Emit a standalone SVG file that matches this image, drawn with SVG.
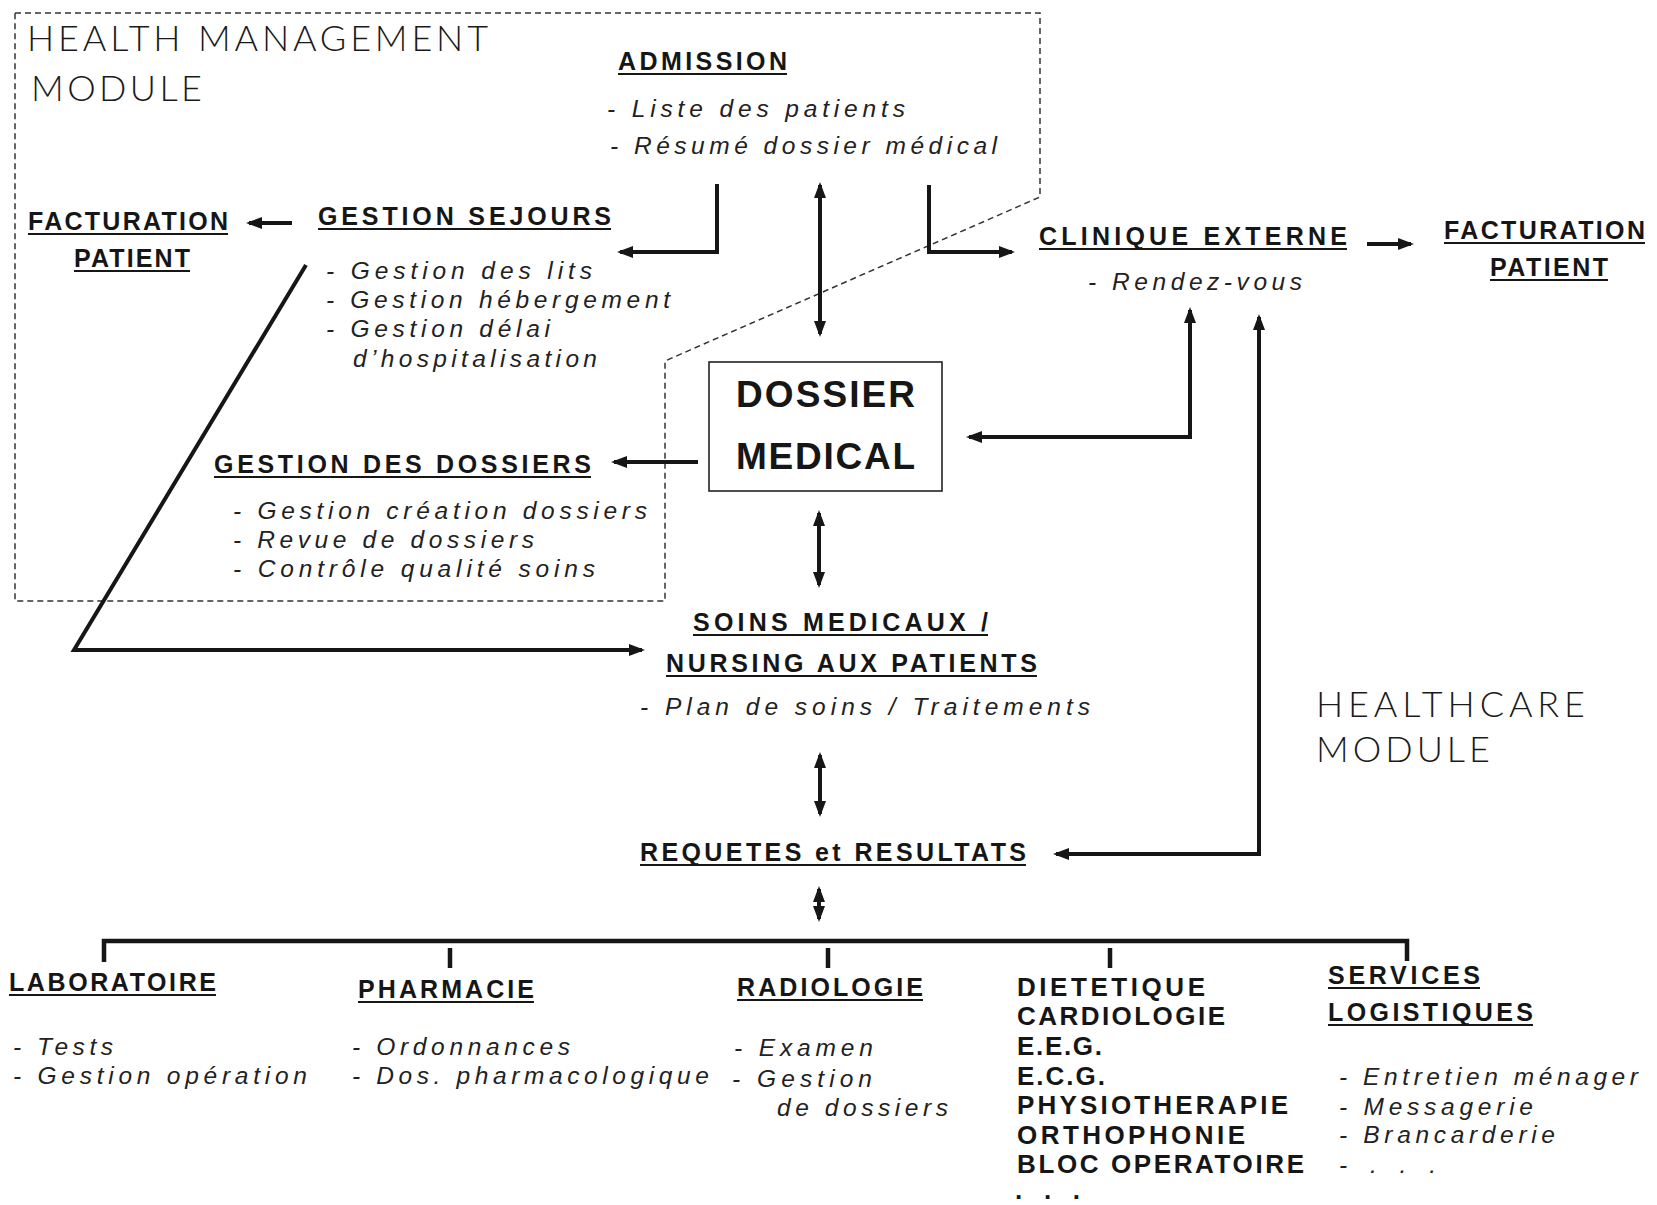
<svg xmlns="http://www.w3.org/2000/svg" width="1657" height="1205" viewBox="0 0 1657 1205">
  <style>
    .ttl { font-family: Lato, 'Liberation Sans', Arial, sans-serif; font-weight: 300; font-size: 36px; fill: #1a1a1a; }
    .hd  { font-family: 'Liberation Sans', Arial, sans-serif; font-weight: bold; font-size: 25px; fill: #161616; }
    .lst { font-family: 'Liberation Sans', Arial, sans-serif; font-weight: bold; font-size: 26px; fill: #161616; }
    .big { font-family: 'Liberation Sans', Arial, sans-serif; font-weight: bold; font-size: 37px; fill: #161616; }
    .it  { font-family: 'Liberation Sans', Arial, sans-serif; font-style: italic; font-size: 24.5px; fill: #222; }
    .ul  { stroke: #161616; stroke-width: 2; }
    .cn  { fill: none; stroke: #161616; stroke-width: 4; }
    .bus { fill: none; stroke: #161616; stroke-width: 4.5; }
    .zone { fill: none; stroke: #333; stroke-width: 1.5; stroke-dasharray: 6 4; }
    .box { fill: #fff; stroke: #222; stroke-width: 1.6; }
  </style>
  <defs>
    <marker id="head" markerUnits="userSpaceOnUse" markerWidth="16" markerHeight="12" refX="13" refY="6" orient="auto-start-reverse">
      <path d="M0,0 L16,6 L0,12 Z" fill="#161616"/>
    </marker>
  </defs>

  <rect width="1657" height="1205" fill="#fff"/>

  <!-- boundary of the health management module -->
  <path class="zone" d="M15,13 H1040 V197 L665,361 V601 H15 Z"/>

  <g id="title-health-management">
    <text class="ttl" x="27" y="51" textLength="461">HEALTH MANAGEMENT</text>
    <text class="ttl" x="31" y="101" textLength="171">MODULE</text>
  </g>

  <g id="title-healthcare">
    <text class="ttl" x="1316" y="717" textLength="269">HEALTHCARE</text>
    <text class="ttl" x="1316" y="762" textLength="174">MODULE</text>
  </g>

  <g id="admission">
    <text class="hd" x="618" y="70" textLength="169">ADMISSION</text>
    <line class="ul" x1="618" y1="74" x2="787" y2="74"/>
    <text class="it" x="607" y="117" textLength="298">- Liste des patients</text>
    <text class="it" x="610" y="154" textLength="387">- Résumé dossier médical</text>
  </g>

  <g id="facturation-left">
    <text class="hd" x="28" y="230" textLength="200">FACTURATION</text>
    <line class="ul" x1="28" y1="234" x2="228" y2="234"/>
    <text class="hd" x="74" y="267" textLength="116">PATIENT</text>
    <line class="ul" x1="74" y1="271" x2="190" y2="271"/>
  </g>

  <g id="gestion-sejours">
    <text class="hd" x="318" y="225" textLength="293">GESTION SEJOURS</text>
    <line class="ul" x1="318" y1="229" x2="611" y2="229"/>
    <text class="it" x="326" y="279" textLength="266">- Gestion des lits</text>
    <text class="it" x="326" y="308" textLength="344">- Gestion hébergement</text>
    <text class="it" x="326" y="337" textLength="224">- Gestion délai</text>
    <text class="it" x="353" y="367" textLength="244">d’hospitalisation</text>
  </g>

  <g id="clinique-externe">
    <text class="hd" x="1039" y="245" textLength="308">CLINIQUE EXTERNE</text>
    <line class="ul" x1="1039" y1="249" x2="1347" y2="249"/>
    <text class="it" x="1088" y="290" textLength="214">- Rendez-vous</text>
  </g>

  <g id="facturation-right">
    <text class="hd" x="1444" y="239" textLength="201">FACTURATION</text>
    <line class="ul" x1="1444" y1="243" x2="1645" y2="243"/>
    <text class="hd" x="1490" y="276" textLength="118">PATIENT</text>
    <line class="ul" x1="1490" y1="280" x2="1608" y2="280"/>
  </g>

  <g id="dossier-medical">
    <rect class="box" x="709" y="362" width="233" height="129"/>
    <text class="big" x="736" y="407" textLength="179">DOSSIER</text>
    <text class="big" x="736" y="469" textLength="179">MEDICAL</text>
  </g>

  <g id="gestion-dossiers">
    <text class="hd" x="214" y="473" textLength="377">GESTION DES DOSSIERS</text>
    <line class="ul" x1="214" y1="477" x2="591" y2="477"/>
    <text class="it" x="233" y="519" textLength="414">- Gestion création dossiers</text>
    <text class="it" x="233" y="548" textLength="301">- Revue de dossiers</text>
    <text class="it" x="233" y="577" textLength="362">- Contrôle qualité soins</text>
  </g>

  <g id="soins-medicaux">
    <text class="hd" x="693" y="631" textLength="295">SOINS MEDICAUX /</text>
    <line class="ul" x1="693" y1="635" x2="988" y2="635"/>
    <text class="hd" x="666" y="672" textLength="371">NURSING AUX PATIENTS</text>
    <line class="ul" x1="666" y1="676" x2="1037" y2="676"/>
    <text class="it" x="640" y="715" textLength="450">- Plan de soins / Traitements</text>
  </g>

  <g id="requetes-resultats">
    <text class="hd" x="640" y="861" textLength="386">REQUETES et RESULTATS</text>
    <line class="ul" x1="640" y1="865" x2="1026" y2="865"/>
  </g>

  <g id="laboratoire">
    <text class="hd" x="9" y="991" textLength="207">LABORATOIRE</text>
    <line class="ul" x1="9" y1="995" x2="216" y2="995"/>
    <text class="it" x="13" y="1055" textLength="100">- Tests</text>
    <text class="it" x="13" y="1084" textLength="294">- Gestion opération</text>
  </g>

  <g id="pharmacie">
    <text class="hd" x="358" y="998" textLength="176">PHARMACIE</text>
    <line class="ul" x1="358" y1="1002" x2="534" y2="1002"/>
    <text class="it" x="352" y="1055" textLength="218">- Ordonnances</text>
    <text class="it" x="352" y="1084" textLength="357">- Dos. pharmacologique</text>
  </g>

  <g id="radiologie">
    <text class="hd" x="737" y="996" textLength="186">RADIOLOGIE</text>
    <line class="ul" x1="737" y1="1000" x2="923" y2="1000"/>
    <text class="it" x="734" y="1056" textLength="139">- Examen</text>
    <text class="it" x="732" y="1087" textLength="140">- Gestion</text>
    <text class="it" x="777" y="1116" textLength="171">de dossiers</text>
  </g>

  <g id="services-specialises">
    <text class="lst" x="1017" y="996" textLength="188">DIETETIQUE</text>
    <text class="lst" x="1017" y="1025" textLength="208">CARDIOLOGIE</text>
    <text class="lst" x="1017" y="1055" textLength="85">E.E.G.</text>
    <text class="lst" x="1017" y="1085" textLength="88">E.C.G.</text>
    <text class="lst" x="1017" y="1114" textLength="271">PHYSIOTHERAPIE</text>
    <text class="lst" x="1017" y="1144" textLength="228">ORTHOPHONIE</text>
    <text class="lst" x="1017" y="1173" textLength="287">BLOC OPERATOIRE</text>
    <text class="lst" x="1015" y="1199" font-size="20" textLength="65">. . .</text>
  </g>

  <g id="services-logistiques">
    <text class="hd" x="1328" y="984" textLength="152">SERVICES</text>
    <line class="ul" x1="1328" y1="988" x2="1480" y2="988"/>
    <text class="hd" x="1328" y="1021" textLength="205">LOGISTIQUES</text>
    <line class="ul" x1="1328" y1="1025" x2="1533" y2="1025"/>
    <text class="it" x="1339" y="1085" textLength="299">- Entretien ménager</text>
    <text class="it" x="1339" y="1115" textLength="194">- Messagerie</text>
    <text class="it" x="1339" y="1143" textLength="216">- Brancarderie</text>
    <text class="it" x="1339" y="1173" textLength="97">- . . .</text>
  </g>

  <g id="connectors">
    <path class="cn" stroke-width="5" d="M292,223 H249" marker-end="url(#head)"/>
    <path class="cn" d="M717,184 V252 H620" marker-end="url(#head)"/>
    <path class="cn" d="M820,185 V334" marker-start="url(#head)" marker-end="url(#head)"/>
    <path class="cn" d="M929,185 V252 H1012" marker-end="url(#head)"/>
    <path class="cn" stroke-width="5" d="M1367,244 H1411" marker-end="url(#head)"/>
    <path class="cn" d="M698,462 H614" marker-end="url(#head)"/>
    <path class="cn" d="M969,437 H1190 V310" marker-start="url(#head)" marker-end="url(#head)"/>
    <path class="cn" d="M1259,317 V854 H1056" marker-start="url(#head)" marker-end="url(#head)"/>
    <path class="cn" d="M819,513 V585" marker-start="url(#head)" marker-end="url(#head)"/>
    <path class="cn" d="M820,755 V814" marker-start="url(#head)" marker-end="url(#head)"/>
    <path class="cn" stroke-width="3.5" d="M819,889 V919" marker-start="url(#head)" marker-end="url(#head)"/>
    <path class="cn" d="M306,265 L74,650 H642" marker-end="url(#head)"/>
    <path class="bus" d="M104,962 V941 H1407 V961"/>
    <path class="bus" d="M450,948 V968 M828,948 V968 M1110,948 V968"/>
  </g>
</svg>
